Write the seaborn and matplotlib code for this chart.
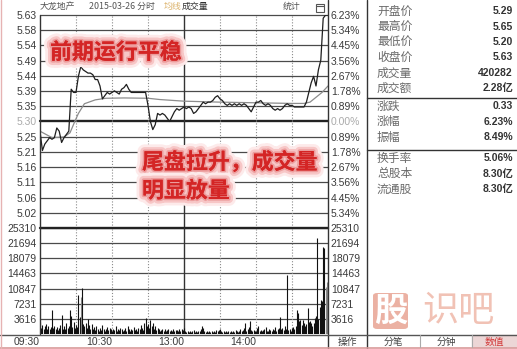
import numpy as np
import pandas as pd
import matplotlib
matplotlib.use("Agg")
import matplotlib.pyplot as plt
import seaborn as sns
from matplotlib import patheffects as pe
from matplotlib.lines import Line2D
from matplotlib.patches import Rectangle, FancyBboxPatch

# ---------------- data ----------------
stock_name = "大龙地产"
trade_date = "2015-03-26"
prev_close = 5.30

# last price, one value every 2 trading minutes (09:30 .. 15:00)
price = [
    5.27, 5.21, 5.23, 5.24, 5.25, 5.245, 5.25, 5.28, 5.27, 5.235,
    5.25, 5.26, 5.27, 5.40, 5.39, 5.39, 5.44, 5.47, 5.46, 5.455,
    5.45, 5.45, 5.445, 5.43, 5.43, 5.41, 5.37, 5.38, 5.39, 5.385,
    5.39, 5.395, 5.39, 5.385, 5.40, 5.405, 5.415, 5.40, 5.39, 5.39,
    5.39, 5.39, 5.39, 5.39, 5.39, 5.35, 5.30, 5.275, 5.29, 5.325,
    5.32, 5.325, 5.32, 5.31, 5.30, 5.315, 5.33, 5.34, 5.335, 5.34,
    5.345, 5.34, 5.345, 5.34, 5.325, 5.33, 5.34, 5.35, 5.36, 5.355,
    5.36, 5.36, 5.365, 5.375, 5.38, 5.37, 5.365, 5.355, 5.35, 5.355,
    5.35, 5.355, 5.35, 5.355, 5.35, 5.355, 5.35, 5.34, 5.33, 5.345,
    5.36, 5.36, 5.365, 5.355, 5.35, 5.355, 5.35, 5.34, 5.335, 5.34,
    5.335, 5.34, 5.35, 5.355, 5.35, 5.35, 5.345, 5.345, 5.345, 5.345,
    5.345, 5.36, 5.39, 5.42, 5.44, 5.41, 5.46, 5.49, 5.62, 5.63,
    5.63,
]

# average price line
avg_minute = [0, 10, 20, 25, 29, 32, 37, 46, 55, 70, 90, 100, 120, 150,
              180, 210, 220, 225, 230, 235, 240]
avg_price = [5.27, 5.25, 5.252, 5.265, 5.30, 5.325, 5.355, 5.367, 5.372,
             5.373, 5.372, 5.368, 5.363, 5.36, 5.358, 5.356, 5.356, 5.36,
             5.375, 5.39, 5.41]

# volume per trading minute
volume = [
    2800, 1500, 2200, 1200, 1800, 2400, 1300, 1900, 1100, 1600,
    5700, 1400, 2000, 1200, 1700, 1000, 1500, 2200, 4500, 1300,
    1800, 1200, 2600, 1500, 2000, 5700, 4400, 1700, 2900, 1400,
    2100, 1600, 9300, 4100, 8800, 11000, 2400, 1800, 2600, 1500,
    3600, 2200, 1300, 2500, 1100, 1700, 900, 2000, 1200, 800,
    1500, 1000, 2200, 1300, 700, 1100, 1600, 900, 1400, 1200,
    800, 1300, 1000, 1800, 700, 1200, 900, 1500, 1100, 600,
    1000, 1400, 800, 1900, 1200, 700, 1300, 1000, 1600, 900,
    1200, 800, 1500, 1100, 2200, 1400, 1000, 2600, 3800, 1800,
    2400, 1500, 3300, 2000, 2700, 1200, 1800, 900, 1400, 1100,
    700, 1000, 1300, 800, 1200, 600, 900, 1100, 700, 1000,
    800, 1200, 600, 900, 1000, 700, 1300, 800, 1100, 900,
    1500,
    600, 400, 800, 500, 700, 400, 600, 900, 500,
    700, 400, 600, 800, 1200, 2000, 1400, 600, 500, 700,
    400, 600, 500, 800, 400, 700, 500, 900, 600, 1000,
    1200, 700, 500, 600, 400, 800, 500, 700, 400, 600,
    500, 700, 400, 900, 600, 500, 800, 1100, 700, 900,
    1500, 2600, 800, 1200, 1600, 3000, 900, 700, 1000, 600,
    800, 1400, 1800, 700, 1000, 600, 900, 1200, 1700, 800,
    600, 1100, 900, 700, 1300, 1000, 1600, 800, 1200, 1400,
    4000, 1100, 1500, 900, 1800, 1200, 14000, 1000, 1300, 800,
    1500, 1700, 1100, 2000, 5700, 5000, 3000, 3300, 2200, 3300,
    2600, 1800, 2400, 6200, 2900, 3200, 2700, 1900, 2600, 3800,
    4200, 22900, 3500, 6500, 8100, 7800, 20800, 20500, 11200, 12400,
    9000,
]

price_labels = ["5.63", "5.58", "5.54", "5.49", "5.44", "5.39", "5.35",
                "5.30", "5.25", "5.21", "5.16", "5.11", "5.06", "5.02"]
pct_labels = ["6.23%", "5.34%", "4.45%", "3.56%", "2.67%", "1.78%", "0.89%",
              "0.00%", "0.89%", "1.78%", "2.67%", "3.56%", "4.45%", "5.34%"]
vol_labels = ["25310", "21694", "18079", "14463", "10847", "7231", "3616"]
time_labels = ["09:30", "10:30", "13:00", "14:00"]
time_minutes = [0, 60, 120, 180]

info_names = ["开盘价", "最高价", "最低价", "收盘价", "成交量", "成交额",
              "涨跌", "涨幅", "振幅",
              "换手率", "总股本", "流通股"]
info_values = ["5.29", "5.65", "5.20", "5.63", "420282", "2.28亿",
               "0.33", "6.23%", "8.49%",
               "5.06%", "8.30亿", "8.30亿"]
tabs = ["操作", "分笔", "分钟", "数值"]

# ---------------- figure setup ----------------
sns.set_theme(style="white")
plt.rcParams["font.family"] = ["Liberation Sans", "Noto Sans CJK SC", "DejaVu Sans"]
CJK = ["Noto Sans CJK SC", "DejaVu Sans"]
NUM = ["Liberation Sans", "Noto Sans CJK SC"]

W, H = 517, 349
fig = plt.figure(figsize=(W / 100, H / 100), dpi=100)
fig.patch.set_facecolor("white")


def fx(x):
    return x / W


def fy(y):
    return 1 - y / H


def px_axes(x0, y0, x1, y1):
    return fig.add_axes([fx(x0), fy(y1), (x1 - x0) / W, (y1 - y0) / H])


def fline(xs, ys, color, lw, ls="-", z=5):
    fig.add_artist(Line2D([fx(v) for v in xs], [fy(v) for v in ys], color=color,
                          lw=lw, ls=ls, transform=fig.transFigure, zorder=z))


GRID = "#4a4a4a"
LAB = "#3a3a3a"

# ---------------- price panel ----------------
top = float(price_labels[0])
half = top - prev_close
levels = [prev_close + half * (7 - k) / 7 for k in range(15)]

axp = px_axes(40, 15, 328, 228)
axp.set_xlim(0, 240)
axp.set_ylim(levels[-1], levels[0])
axp.patch.set_alpha(0)
for s in axp.spines.values():
    s.set_visible(False)

for k, lv in enumerate(levels):
    if k == 7:
        axp.axhline(lv, color="#222222", lw=1.7, clip_on=False, zorder=1)
    else:
        axp.axhline(lv, color=GRID, lw=0.9, clip_on=False, zorder=1)

for m in [30, 60, 90, 150, 180, 210]:
    axp.axvline(m, color="#8a8a8a", lw=0.8, ls=(0, (1, 1.6)), zorder=1)
axp.axvline(120, color="#333333", lw=1.0, zorder=1)

price_df = pd.DataFrame({"minute": np.arange(len(price)) * 2, "price": price})
avg_df = pd.DataFrame({"minute": avg_minute, "price": avg_price})
sns.lineplot(data=avg_df, x="minute", y="price", ax=axp, color="#8c8c8c", lw=0.9, zorder=3)
sns.lineplot(data=price_df, x="minute", y="price", ax=axp, color="#1e1e1e", lw=0.9, zorder=4)
axp.set_xlabel("")
axp.set_ylabel("")
axp.set_xticks([])

axp.set_yticks(levels[:14])
axp.set_yticklabels(price_labels, fontsize=7.5, color=LAB)
axp.tick_params(axis="y", length=0, pad=2.5)
axp.get_yticklabels()[7].set_color("#aaaaaa")

axr = axp.twinx()
axr.set_ylim(axp.get_ylim())
for s in axr.spines.values():
    s.set_visible(False)
axr.set_yticks(levels[:14])
axr.set_yticklabels(pct_labels, fontsize=7.5, color=LAB)
axr.tick_params(axis="y", length=0, pad=2)
axr.get_yticklabels()[7].set_color("#aaaaaa")

# ---------------- volume panel ----------------
vmax = float(vol_labels[0])
vol_levels = [float(v) for v in vol_labels]
axv = px_axes(40, 228, 328, 334)
axv.set_xlim(0, 240)
axv.set_ylim(0, vmax)
axv.patch.set_alpha(0)
for s in axv.spines.values():
    s.set_visible(False)
for k, lv in enumerate(vol_levels):
    axv.axhline(lv, color="#222222" if k == 0 else GRID, lw=1.7 if k == 0 else 0.9,
                clip_on=False, zorder=1)
for m in [30, 60, 90, 150, 180, 210]:
    axv.axvline(m, color="#8a8a8a", lw=0.8, ls=(0, (1, 1.6)), zorder=1)
axv.axvline(120, color="#333333", lw=1.0, zorder=1)

vol_x = np.arange(len(volume))
bar_colors = ["#111111"] * len(volume)
for i in (34, 238, 239):
    bar_colors[i] = "#8a8a8a"
axv.vlines(vol_x, 0, volume, colors=bar_colors, lw=0.8, zorder=3)

axv.set_yticks(vol_levels)
axv.set_yticklabels(vol_labels, fontsize=7.5, color=LAB)
axv.tick_params(axis="y", length=0, pad=2.5)
axv.set_xticks(time_minutes)
axv.set_xticklabels(time_labels, fontsize=7.5, color=LAB, ha="right")
axv.tick_params(axis="x", length=0, pad=2)

axvr = axv.twinx()
axvr.set_ylim(0, vmax)
for s in axvr.spines.values():
    s.set_visible(False)
axvr.set_yticks(vol_levels)
axvr.set_yticklabels(vol_labels, fontsize=7.5, color=LAB)
axvr.tick_params(axis="y", length=0, pad=2)

# ---------------- frame lines ----------------
fline([40, 40], [15, 334], "#333333", 1.0)
fline([328, 328], [0, 349], "#333333", 1.0)
fline([367, 367], [0, 349], "#333333", 1.0)
fline([0, 517], [334.5, 334.5], "#555555", 1.0)
fline([367, 517], [98, 98], "#333333", 1.0)
fline([367, 517], [150, 150], "#333333", 1.0)
fline([0, 517], [347.5, 347.5], "#d99a9a", 1.2)
fline([1, 1], [0, 349], "#e6b3b3", 1.0)
fline([420, 420], [335, 347], "#aaaaaa", 0.8)
fline([472, 472], [335, 347], "#aaaaaa", 0.8)

# ---------------- header ----------------
HFS = 6.4
fig.text(fx(40), fy(6.5), stock_name, fontsize=HFS, color="#555555", va="center", family=CJK)
fig.text(fx(89), fy(6.5), trade_date + " 分时", fontsize=HFS, color="#555555", va="center", family=CJK)
fig.text(fx(164), fy(6.5), "均线", fontsize=HFS, color="#dcb36c", va="center", family=CJK)
fig.text(fx(182), fy(6.5), "成交量", fontsize=HFS, color="#333333", va="center", family=CJK)
fig.text(fx(283), fy(6.5), "统计", fontsize=HFS, color="#555555", va="center", family=CJK)
fig.add_artist(Rectangle((fx(316), fy(11.5)), 8 / W, 8 / H, fill=False, ec="#555555",
                         lw=0.8, transform=fig.transFigure))
fline([316, 324], [5.5, 5.5], "#555555", 0.8)

# ---------------- info panel ----------------
rows_y = [11, 26.5, 42, 57.5, 73, 88.5, 106, 121.5, 137, 158, 173.5, 189]
for name, val, y in zip(info_names, info_values, rows_y):
    fig.text(fx(377), fy(y), name, fontsize=8.5, color="#6a6a6a", va="center", family=CJK)
    fig.text(fx(513), fy(y), val, fontsize=7.5, color="#333333", va="center", ha="right",
             weight="bold", family=NUM)

# bottom tabs
fig.add_artist(Rectangle((fx(472), fy(347)), 45 / W, 12 / H, color="#ecd6d6",
                         transform=fig.transFigure, zorder=1))
for t, cx in zip(tabs, [347, 393, 446, 494]):
    fig.text(fx(cx), fy(341.5), t, fontsize=7, va="center", ha="center", family=CJK,
             color="#d33a3a" if t == "数值" else "#444444")

# ---------------- watermark ----------------
fig.add_artist(FancyBboxPatch((fx(373), fy(329)), 35 / W, 36 / H,
                              boxstyle="round,pad=0,rounding_size=0.008",
                              fc="#e8a493", ec="none", alpha=0.85,
                              transform=fig.transFigure, zorder=6))
fig.text(fx(390.5), fy(311), "股", fontsize=24, color="white", ha="center", va="center",
         family=CJK, weight="bold", zorder=7)
fig.text(fx(458), fy(311), "识吧", fontsize=26, color="#f1c2b5", ha="center", va="center",
         family=CJK, zorder=7)

# ---------------- annotations ----------------
glow = [pe.withStroke(linewidth=10, foreground="#fdeaea"),
        pe.withStroke(linewidth=6, foreground="#f7c6c6"),
        pe.withStroke(linewidth=2.5, foreground="#ec9c9c"),
        pe.Normal()]
for txt, x, y in [("前期运行平稳", 50, 52.5), ("尾盘拉升，成交量", 142, 162.5),
                  ("明显放量", 142, 191)]:
    t = fig.text(fx(x), fy(y), txt, fontsize=15.8, color="#d42525", va="center",
                 family=CJK, weight="bold", zorder=10)
    t.set_path_effects(glow)

fig.savefig("out.png", dpi=100)
